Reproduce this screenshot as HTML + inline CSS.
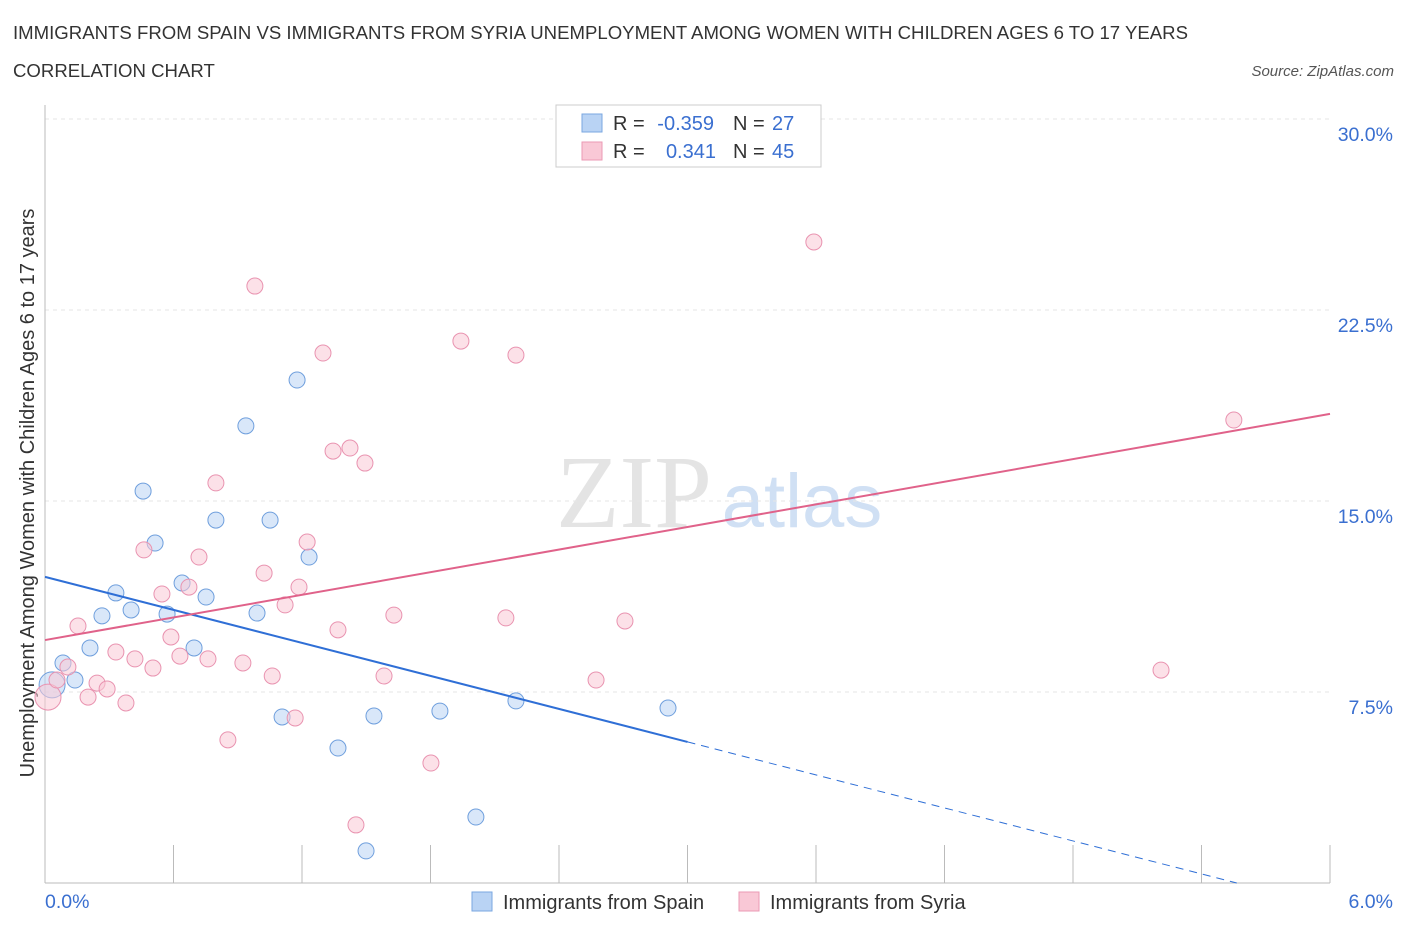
<!DOCTYPE html>
<html><head><meta charset="utf-8"><style>
body{margin:0;background:#fff;font-family:"Liberation Sans",sans-serif;}
svg{display:block}
</style></head><body>
<svg id="chart" width="1406" height="930">
<text x="13" y="39" font-size="18.6" fill="#333">IMMIGRANTS FROM SPAIN VS IMMIGRANTS FROM SYRIA UNEMPLOYMENT AMONG WOMEN WITH CHILDREN AGES 6 TO 17 YEARS</text>
<text x="13" y="77" font-size="18.6" fill="#333">CORRELATION CHART</text>
<text x="1394" y="76" font-size="15" fill="#555" font-style="italic" text-anchor="end">Source: ZipAtlas.com</text>
<text x="634" y="527" font-size="104" fill="#e4e4e4" font-family="Liberation Serif" text-anchor="middle">ZIP</text>
<text x="802" y="527" font-size="76" fill="#d0e0f4" text-anchor="middle">atlas</text>
<text transform="translate(34,493) rotate(-90)" font-size="20" fill="#333" text-anchor="middle">Unemployment Among Women with Children Ages 6 to 17 years</text>
<g id="grid"></g><g id="marks"></g>
<g>
<rect x="556" y="105" width="265" height="62" fill="#fff" stroke="#ccc"/>
<rect x="582" y="114" width="20" height="18" fill="#b9d3f4" stroke="#7aa7e0"/>
<rect x="582" y="142" width="20" height="18" fill="#f9c8d6" stroke="#eb9ab4"/>
<text x="613" y="130" font-size="20" fill="#333">R =</text>
<text x="714" y="130" font-size="20" fill="#3a6fd0" text-anchor="end">-0.359</text>
<text x="733" y="130" font-size="20" fill="#333">N =</text>
<text x="772" y="130" font-size="20" fill="#3a6fd0">27</text>
<text x="613" y="158" font-size="20" fill="#333">R =</text>
<text x="716" y="158" font-size="20" fill="#3a6fd0" text-anchor="end">0.341</text>
<text x="733" y="158" font-size="20" fill="#333">N =</text>
<text x="772" y="158" font-size="20" fill="#3a6fd0">45</text>
</g>
<g>
<rect x="472" y="892" width="20" height="19" fill="#b9d3f4" stroke="#7aa7e0"/>
<text x="503" y="909" font-size="20" fill="#333">Immigrants from Spain</text>
<rect x="739" y="892" width="20" height="19" fill="#f9c8d6" stroke="#eb9ab4"/>
<text x="770" y="909" font-size="20" fill="#333">Immigrants from Syria</text>
</g>
</svg>
<script>
const spainX=[0.033,0.084,0.140,0.210,0.266,0.331,0.402,0.458,0.514,0.570,0.640,0.696,0.752,0.798,0.938,0.990,1.051,1.107,1.177,1.233,1.368,1.499,1.536,1.844,2.012,2.199,2.909];
const spainY=[7.78,8.64,7.97,9.23,10.49,11.39,10.72,15.39,13.35,10.56,11.78,9.23,11.23,14.25,17.95,10.60,14.25,6.52,19.75,12.80,5.30,1.26,6.56,6.75,2.59,7.15,6.87];
const syriaX=[0.014,0.056,0.107,0.154,0.201,0.243,0.290,0.331,0.378,0.420,0.462,0.504,0.546,0.588,0.630,0.672,0.719,0.761,0.798,0.854,0.924,0.980,1.023,1.061,1.121,1.168,1.186,1.224,1.298,1.345,1.368,1.424,1.452,1.494,1.583,1.629,1.802,1.942,2.152,2.199,2.573,2.708,3.590,5.211,5.551];
const syriaY=[7.30,7.97,8.48,10.09,7.30,7.85,7.62,9.07,7.07,8.80,13.08,8.44,11.35,9.66,8.91,11.62,12.80,8.80,15.71,5.62,8.64,23.44,12.17,8.13,10.92,6.48,11.62,13.39,20.81,16.96,9.94,17.08,2.28,16.49,8.13,10.52,4.71,21.28,10.41,20.73,7.97,10.29,25.17,8.36,18.18];
const yTicks=[7.5,15,22.5,30];
const spainTrend=[12.02,-2.16];
const syriaTrend=[9.54,1.48];
const NS="http://www.w3.org/2000/svg";
const X=v=>45+v/6*1285, Y=v=>883-v/7.5*191;
function mk(t,a,p){const e=document.createElementNS(NS,t);for(const k in a)e.setAttribute(k,a[k]);p.appendChild(e);return e;}
const g=document.getElementById('grid'),m=document.getElementById('marks');
yTicks.forEach(t=>{
 const l=mk('line',{x1:45,x2:1330,y1:Y(t),y2:Y(t),stroke:'#e6e6e6','stroke-dasharray':'4,4'},g);
 
 
 const tx=mk('text',{x:1393,y:Y(t)+22,'font-size':19.5,fill:'#3a6fd0','text-anchor':'end'},g);
 tx.textContent=t.toFixed(1)+'%';
 
 
});
mk('line',{x1:45,x2:45,y1:105,y2:883,stroke:'#bbb'},g);
mk('line',{x1:45,x2:1330,y1:883,y2:883,stroke:'#bbb'},g);
for(let i=0;i<=10;i++){const t=mk('line',{x1:X(i*0.6),x2:X(i*0.6),y1:845,y2:883,stroke:'#bbb'},g);
 
 }
const x0=mk('text',{x:45,y:908,'font-size':19.5,fill:'#3a6fd0'},g);x0.textContent='0.0%';


const x6=mk('text',{x:1393,y:908,'font-size':19.5,fill:'#3a6fd0','text-anchor':'end'},g);x6.textContent='6.0%';


function pts(xs,ys,fill,stroke,name){xs.forEach((x,i)=>{
 const c=mk('circle',{cx:X(x),cy:Y(ys[i]),r:i==0?13:8,fill:fill,'fill-opacity':0.55,stroke:stroke,'stroke-width':1},m);
 
 });}
pts(spainX,spainY,'#b9d3f4','#6f9fdd','spain-point');
pts(syriaX,syriaY,'#f9c8d6','#e993b0','syria-point');
const sy=x=>spainTrend[0]+spainTrend[1]*x, py=x=>syriaTrend[0]+syriaTrend[1]*x;
const b1=mk('line',{x1:X(0),y1:Y(sy(0)),x2:X(3),y2:Y(sy(3)),stroke:'#2f6fd6','stroke-width':2},m);


const xe=-spainTrend[0]/spainTrend[1];
const b2=mk('line',{x1:X(3),y1:Y(sy(3)),x2:X(xe),y2:Y(0),stroke:'#2f6fd6','stroke-width':1,'stroke-dasharray':'8,6'},m);


const p1=mk('line',{x1:X(0),y1:Y(py(0)),x2:X(6),y2:Y(py(6)),stroke:'#e0628a','stroke-width':2},m);


</script>
</body></html>
